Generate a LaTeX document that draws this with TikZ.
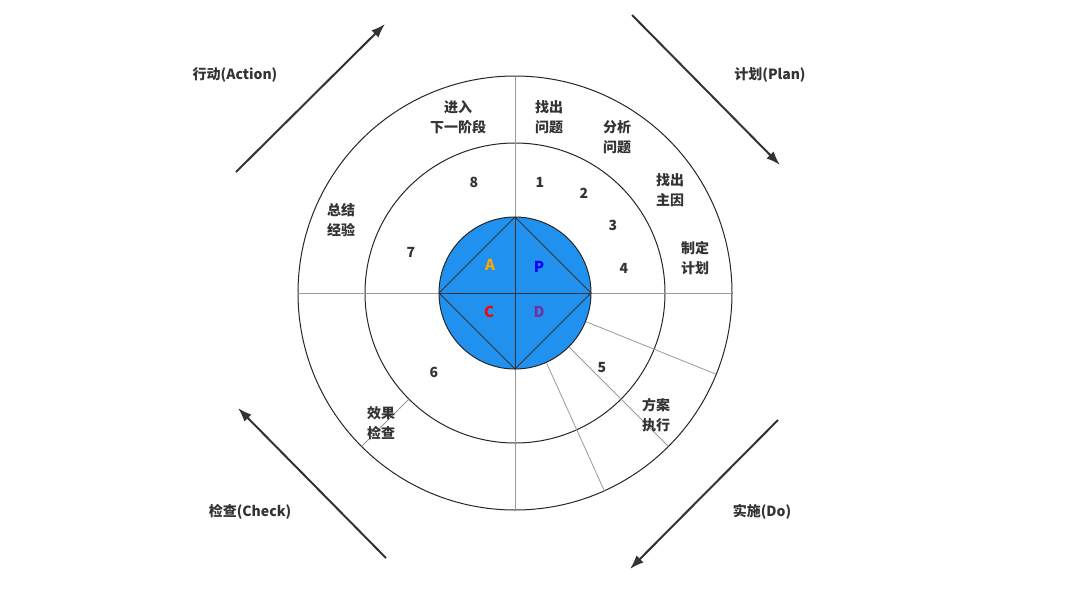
\documentclass[tikz,border=0pt]{standalone}
\usepackage{fontspec}
\usetikzlibrary{calc,arrows.meta}
\setmainfont{Noto Sans CJK SC}
\begin{document}
\begin{tikzpicture}[x=1pt,y=-1pt,
  lbl/.style={font=\fontsize{14}{20}\selectfont\bfseries,text=black!80,align=center,inner sep=0pt},
  num/.style={font=\fontsize{14}{16}\selectfont\bfseries,text=black!80,inner sep=0pt},
  ltr/.style={font=\fontsize{15}{16}\selectfont\bfseries,inner sep=0pt},
  arr/.style={line width=2pt,draw=black!80,-{Latex[length=14pt,width=10pt]}},
  thin/.style={draw=black!40,line width=0.8pt}]
\useasboundingbox (0,0) rectangle (1066,606);
\coordinate (O) at (515,293);
\draw[line width=1pt,black!85] (O) circle[radius=217];
\draw[line width=1pt,black!85] (O) circle[radius=150];
% radial lines
\draw[thin] (515,77) -- (515,217);
\draw[thin] (515,369) -- (515,510);
\draw[thin] (298,293) -- (439,293);
\draw[thin] (591,293) -- (732,293);
\draw[thin] ($(O)+(65.7:76)$) -- ($(O)+(65.7:217)$);
\draw[thin] ($(O)+(45:76)$) -- ($(O)+(45:217)$);
\draw[thin] ($(O)+(22:76)$) -- ($(O)+(22:217)$);
\draw[thin] ($(O)+(135:150)$) -- ($(O)+(135:217)$);
% inner
\fill[fill={rgb,255:red,33;green,145;blue,240},draw=black!85,line width=1pt] (O) circle[radius=76];
\draw[black!80,line width=1pt] (515,217) -- (591,293) -- (515,369) -- (439,293) -- cycle;
\draw[black!80,line width=1pt] (515,217) -- (515,369) (439,293) -- (591,293);
\node[ltr,text={rgb,255:red,255;green,165;blue,0}] (A) at (490,265) {A};
\node[ltr,text={rgb,255:red,0;green,0;blue,255}] (P) at (539,267) {P};
\node[ltr,text={rgb,255:red,255;green,0;blue,0}] (C) at (489,312) {C};
\node[ltr,text={rgb,255:red,112;green,48;blue,160}] (D) at (539,312) {D};
% numbers
\node[num] (n1) at (540,182) {1};
\node[num] (n2) at (584,193) {2};
\node[num] (n3) at (613,225) {3};
\node[num] (n4) at (624,268) {4};
\node[num] (n5) at (602,368) {5};
\node[num] (n6) at (434,372) {6};
\node[num] (n7) at (411,252) {7};
\node[num] (n8) at (474,182) {8};
% labels
\node[lbl] (l8) at (458,117) {进入\\下一阶段};
\node[lbl] (l1) at (549,117) {找出\\问题};
\node[lbl] (l2) at (617,137) {分析\\问题};
\node[lbl] (l3) at (670,190) {找出\\主因};
\node[lbl] (l4) at (695,258) {制定\\计划};
\node[lbl] (l5) at (656,415) {方案\\执行};
\node[lbl] (l6) at (381,423) {效果\\检查};
\node[lbl] (l7) at (341,220) {总结\\经验};
\node[lbl] (ta) at (235,75) {行动(Action)};
\node[lbl] (tp) at (770,75) {计划(Plan)};
\node[lbl] (tc) at (250,512) {检查(Check)};
\node[lbl] (td) at (762,512) {实施(Do)};
% arrows
\coordinate (a1) at (236,172); \coordinate (a2) at (385,24);
\coordinate (b1) at (632,15); \coordinate (b2) at (780,165);
\coordinate (c1) at (778,420); \coordinate (c2) at (630,569);
\coordinate (d1) at (386,558); \coordinate (d2) at (238,408);
\draw[arr] (a1) -- (a2);
\draw[arr] (b1) -- (b2);
\draw[arr] (c1) -- (c2);
\draw[arr] (d1) -- (d2);
\end{tikzpicture}
\end{document}
